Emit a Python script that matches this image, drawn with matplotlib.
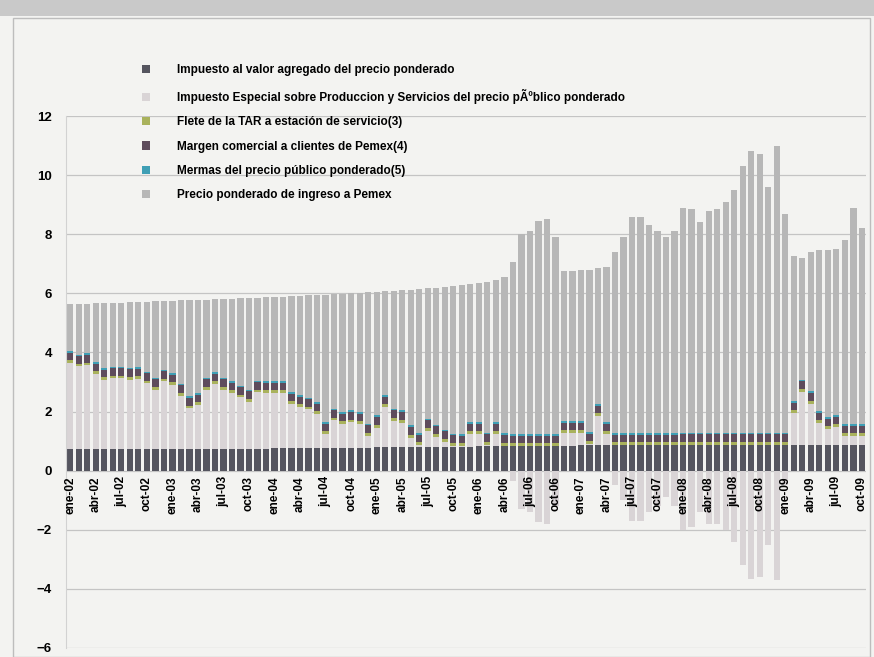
import matplotlib
matplotlib.use("Agg")
import matplotlib.pyplot as plt
from matplotlib.patches import Rectangle
import numpy as np

plt.rcParams['font.family'] = ['Liberation Sans', 'DejaVu Sans']
plt.rcParams['font.weight'] = 'bold'

# Meses ene-02 ... oct-09 (precios en pesos por litro)
meses = ['ene', 'feb', 'mar', 'abr', 'may', 'jun', 'jul', 'ago', 'sep', 'oct', 'nov', 'dic']
periodos = [f"{m}-{a:02d}" for a in range(2, 10) for m in meses][:94]

iva = [0.72, 0.72, 0.72, 0.72, 0.72, 0.72, 0.72, 0.72, 0.72, 0.72, 0.72, 0.72,
       0.74, 0.74, 0.74, 0.74, 0.74, 0.74, 0.74, 0.74, 0.74, 0.74, 0.74, 0.74,
       0.77, 0.77, 0.77, 0.77, 0.77, 0.77, 0.77, 0.77, 0.77, 0.77, 0.77, 0.77,
       0.80, 0.80, 0.80, 0.80, 0.80, 0.80, 0.80, 0.80, 0.80, 0.80, 0.80, 0.80,
       0.83, 0.83, 0.83, 0.83, 0.83, 0.83, 0.83, 0.83, 0.83, 0.83, 0.83, 0.83,
       0.86, 0.86, 0.86, 0.86, 0.86, 0.86, 0.86, 0.86, 0.86, 0.86, 0.86, 0.86,
       0.88, 0.88, 0.88, 0.88, 0.88, 0.88, 0.88, 0.88, 0.88, 0.88, 0.88, 0.88,
       0.88, 0.88, 0.88, 0.88, 0.88, 0.88, 0.88, 0.88, 0.88, 0.88]

ieps = [2.92, 2.81, 2.85, 2.55, 2.35, 2.40, 2.40, 2.36, 2.38, 2.23, 2.02, 2.30,
        2.16, 1.80, 1.37, 1.48, 2.00, 2.19, 2.00, 1.89, 1.74, 1.59, 1.91, 1.89,
        1.86, 1.86, 1.49, 1.38, 1.30, 1.15, 0.47, 0.93, 0.81, 0.87, 0.81, 0.42,
        0.66, 1.34, 0.89, 0.83, 0.32, 0.06, 0.55, 0.35, 0.17, 0.04, 0.02, 0.43,
        0.40, 0.04, 0.40, 0.02, -0.35, -1.30, -1.40, -1.75, -1.80, -1.20, 0.44, 0.44,
        0.41, 0.03, 0.98, 0.37, -0.50, -1.00, -1.70, -1.70, -1.40, -1.20, -0.90, -1.20,
        -2.00, -1.90, -1.40, -1.80, -1.80, -2.00, -2.40, -3.20, -3.65, -3.60, -2.50, -3.70,
        -0.50, 1.06, 1.79, 1.39, 0.72, 0.52, 0.59, 0.28, 0.28, 0.28]

flete = [0.09] * 36 + [0.10] * 58
margen = [0.26] * 94
mermas = [0.05] * 94

precio = [1.59, 1.71, 1.68, 1.99, 2.20, 2.16, 2.17, 2.22, 2.21, 2.37, 2.59, 2.32,
          2.45, 2.82, 3.26, 3.16, 2.65, 2.47, 2.67, 2.79, 2.95, 3.11, 2.80, 2.83,
          2.85, 2.86, 3.24, 3.37, 3.46, 3.63, 4.32, 3.88, 4.01, 3.97, 4.04, 4.45,
          4.18, 3.52, 3.99, 4.07, 4.60, 4.88, 4.41, 4.63, 4.83, 5.00, 5.05, 4.67,
          4.70, 5.10, 4.81, 5.29, 5.81, 6.76, 6.86, 7.21, 7.26, 6.66, 5.07, 5.07,
          5.12, 5.50, 4.60, 5.26, 6.13, 6.63, 7.33, 7.33, 7.03, 6.83, 6.63, 6.83,
          7.61, 7.56, 7.11, 7.51, 7.56, 7.81, 8.21, 9.01, 9.51, 9.41, 8.31, 9.71,
          7.41, 4.90, 4.12, 4.72, 5.44, 5.64, 5.62, 6.23, 7.33, 6.63]

etiquetas = [
    'Impuesto al valor agregado del precio ponderado',
    'Impuesto Especial sobre Produccion y Servicios del precio pÃºblico ponderado',
    'Flete de la TAR a estación de servicio(3)',
    'Margen comercial a clientes de Pemex(4)',
    'Mermas del precio público ponderado(5)',
    'Precio ponderado de ingreso a Pemex',
]
colores = ['#55555f', '#d9d4d6', '#a9b25c', '#5e4c5c', '#3f9fb5', '#b7b7b7']

fondo = '#f3f3f1'
fig = plt.figure(figsize=(8.74, 6.57), dpi=100, facecolor=fondo)
ax = fig.add_axes([0.0755, 0.0137, 0.9155, 0.8097], facecolor=fondo)

x = np.arange(len(periodos))
ieps_arr = np.array(ieps)
ieps_pos = np.where(ieps_arr > 0, ieps_arr, 0)
ieps_neg = np.where(ieps_arr < 0, ieps_arr, 0)

ancho = 0.74
base = np.zeros(len(x))
handles = []
series = [iva, ieps_pos, flete, margen, mermas, precio]
for i, (vals, col) in enumerate(zip(series, colores)):
    vals = np.array(vals)
    h = ax.bar(x, vals, ancho, bottom=base, color=col, linewidth=0, zorder=2)
    if i == 1:
        ax.bar(x, ieps_neg, ancho, bottom=0, color=col, linewidth=0, zorder=2)
    handles.append(h)
    base = base + vals

ax.set_xlim(-0.5, len(x) - 0.5)
ax.set_ylim(-6, 12)
ax.set_yticks(np.arange(-6, 13, 2))
ax.yaxis.grid(True, color='#c4c4c4', linewidth=0.9, zorder=0)
ax.set_axisbelow(True)
ax.tick_params(axis='y', length=0, pad=10, labelsize=9.5)
for lab in ax.get_yticklabels():
    lab.set_fontweight('bold')

ax.spines['bottom'].set_position(('data', 0))
ax.spines['bottom'].set_visible(False)
ax.spines['top'].set_visible(False)
ax.spines['right'].set_visible(False)
ax.spines['left'].set_color('#d2d2d2')
ax.set_xticks(x[::3])
ax.set_xticklabels(periodos[::3], rotation=90, fontsize=8.5, fontweight='bold')
ax.tick_params(axis='x', length=0, pad=4)
ax.xaxis.set_zorder(5)  # etiquetas por encima de las barras negativas

fig.legend([h[0] for h in handles], etiquetas, loc='upper left',
           bbox_to_anchor=(0.150, 0.918), frameon=False,
           handlelength=0.7, handleheight=0.7, handletextpad=2.3,
           labelspacing=1.05, prop={'weight': 'bold', 'size': 8.5})

# marco del gráfico escaneado
fig.patches.append(Rectangle((0.0, 0.975), 1.0, 0.025, transform=fig.transFigure,
                             facecolor='#c9c9c9', edgecolor='none', zorder=0))
fig.patches.append(Rectangle((0.015, 0.0), 0.98, 0.972, transform=fig.transFigure,
                             facecolor='none', edgecolor='#bdbdbd', linewidth=1.0))

fig.savefig('out.png', dpi=100, facecolor=fondo)
